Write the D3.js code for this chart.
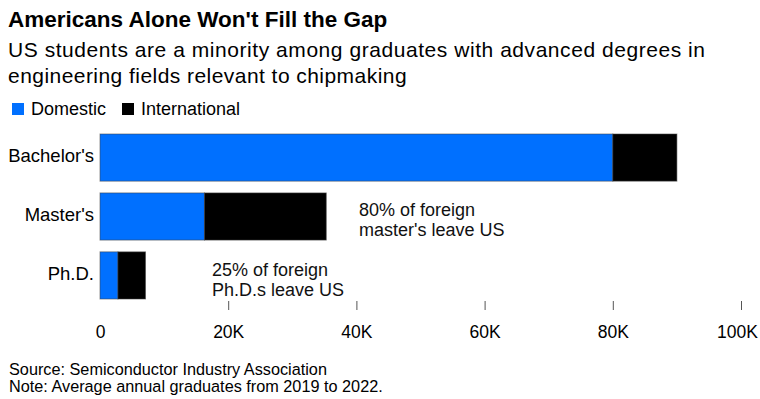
<!DOCTYPE html>
<html>
<head>
<meta charset="utf-8">
<script src="https://cdn.jsdelivr.net/npm/d3@7"></script>
<style>
  body { margin: 0; background: #fff; }
  svg { display: block; font-family: "Liberation Sans", Arial, sans-serif; }
</style>
</head>
<body>
<div id="chart"></div>
<script>
// data
const categories = ["Bachelor's", "Master's", "Ph.D."];
const domestic = [80000, 16300, 2800];
const international = [10000, 19000, 4300];
const seriesNames = ["Domestic", "International"];
const tickValues = [0, 20000, 40000, 60000, 80000, 100000];
const notes = [
  { cat: "Master's", lines: ["80% of foreign", "master's leave US"] },
  { cat: "Ph.D.", lines: ["25% of foreign", "Ph.D.s leave US"] }
];

let width = 760, height = 399;
let colors = ["#0070ff", "#000000"];

let svg = d3.select("#chart").append("svg")
  .attr("width", width)
  .attr("height", height);

// titles
svg.append("text")
  .attr("x", 8).attr("y", 27)
  .style("font-size", "22.5px").style("font-weight", "bold")
  .text("Americans Alone Won't Fill the Gap");

let sub = svg.append("text")
  .attr("x", 8).attr("y", 57)
  .style("font-size", "21px");
sub.append("tspan").attr("x", 8).style("letter-spacing", "0.55px")
  .text("US students are a minority among graduates with advanced degrees in");
sub.append("tspan").attr("x", 8).attr("dy", 26).style("letter-spacing", "0.45px")
  .text("engineering fields relevant to chipmaking");

// legend
let legX = [12, 122];
let leg = svg.selectAll("g.leg").data(seriesNames).enter().append("g")
  .attr("class", "leg")
  .attr("transform", (d, i) => "translate(" + legX[i] + ",103)");
leg.append("rect").attr("width", 12).attr("height", 12).attr("fill", (d, i) => colors[i]);
leg.append("text").attr("x", 19).attr("y", 11.5).style("font-size", "18px").text(d => d);

// scales
let x = d3.scaleLinear().domain([0, 100000]).range([100, 741]);
let y = d3.scaleBand().domain(categories).range([134, 299]).paddingInner(0.2).paddingOuter(0);

let rows = categories.map((c, i) => ({ cat: c, Domestic: domestic[i], International: international[i] }));
let stacked = d3.stack().keys(seriesNames)(rows);

svg.selectAll("g.series").data(stacked).enter().append("g")
  .attr("class", "series")
  .attr("fill", (d, i) => colors[i])
  .selectAll("rect").data(d => d).enter().append("rect")
    .attr("x", d => x(d[0]))
    .attr("y", d => y(d.data.cat))
    .attr("width", d => x(d[1]) - x(d[0]))
    .attr("height", y.bandwidth())
    .attr("stroke", "#444")
    .attr("stroke-opacity", 0.55)
    .attr("stroke-width", 1);

// category labels
svg.selectAll("text.cat").data(categories).enter().append("text")
  .attr("class", "cat")
  .attr("x", 94)
  .attr("y", d => y(d) + y.bandwidth() / 2)
  .attr("dy", "0.25em")
  .attr("text-anchor", "end")
  .style("font-size", "18.5px")
  .text(d => d);

// axis
let axis = svg.append("g")
  .attr("transform", "translate(0,301)")
  .call(d3.axisBottom(x).tickValues(tickValues).tickSize(9).tickPadding(16)
    .tickFormat(d => d === 0 ? "0" : (d / 1000) + "K"));
axis.select(".domain").remove();
axis.selectAll(".tick line").attr("stroke", "#555")
  .filter(d => d === 0).remove();
axis.selectAll(".tick text").attr("fill", "#000")
  .style("font-size", "17.5px").style("font-family", "'Liberation Sans', Arial, sans-serif")
  .filter(d => d === 100000).attr("dx", -4);

// annotations next to bars
let noteX = [359, 212];
notes.forEach((n, i) => {
  let t = svg.append("text")
    .attr("x", noteX[i])
    .attr("y", y(n.cat) + 23.5 + i)
    .style("font-size", "18px")
    .attr("fill", "#111");
  n.lines.forEach((l, j) => {
    t.append("tspan").attr("x", noteX[i]).attr("dy", j ? 20 : 0).text(l);
  });
});

// footer
svg.append("text").attr("x", 9).attr("y", 375).style("font-size", "16.25px")
  .text("Source: Semiconductor Industry Association");
svg.append("text").attr("x", 9).attr("y", 392).style("font-size", "16.25px")
  .text("Note: Average annual graduates from 2019 to 2022.");
</script>
</body>
</html>
